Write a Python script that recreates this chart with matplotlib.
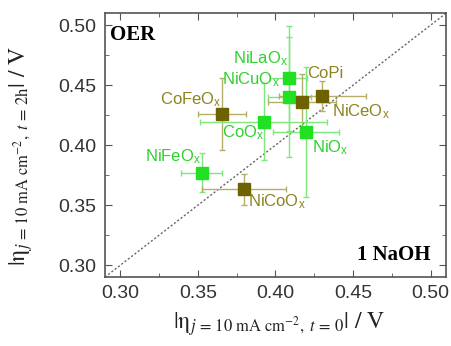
import matplotlib
matplotlib.use("Agg")
import matplotlib.pyplot as plt
from matplotlib.ticker import MultipleLocator

plt.rcParams['font.family'] = ['Liberation Sans', 'DejaVu Sans']
plt.rcParams['mathtext.fontset'] = 'custom'
plt.rcParams['mathtext.rm'] = 'Liberation Sans'
plt.rcParams['mathtext.it'] = 'Liberation Sans:italic'
plt.rcParams['mathtext.bf'] = 'Liberation Sans:bold'

# catalyst data
names = ['NiLaO$_\\mathrm{x}$', 'NiCuO$_\\mathrm{x}$', 'CoPi', 'NiCeO$_\\mathrm{x}$', 'CoFeO$_\\mathrm{x}$',
         'CoO$_\\mathrm{x}$', 'NiO$_\\mathrm{x}$', 'NiFeO$_\\mathrm{x}$', 'NiCoO$_\\mathrm{x}$']
eta_t0 = [0.4085, 0.409, 0.417, 0.4303, 0.3656, 0.3923, 0.4197, 0.3524, 0.3795]
eta_2h = [0.4556, 0.440, 0.4356, 0.4408, 0.4258, 0.4194, 0.4111, 0.3772, 0.3631]
err_t0 = [0.012, 0.014, 0.022, 0.028, 0.0155, 0.041, 0.021, 0.013, 0.027]
err_2h = [0.044, 0.05, 0.024, 0.0125, 0.03, 0.032, 0.054, 0.016, 0.013]
group = ['g', 'g', 'o', 'o', 'o', 'g', 'g', 'g', 'o']

# label anchors (left, baseline) in data units
lab_x = [0.3724, 0.3654, 0.4205, 0.4365, 0.3256, 0.3654, 0.4237, 0.3160, 0.3821]
lab_y = [0.4683, 0.4508, 0.4558, 0.4242, 0.4342, 0.4067, 0.3942, 0.3867, 0.3492]

mark_col = {'g': '#22e022', 'o': '#6e6200'}
bar_col = {'g': '#7ee87e', 'o': '#b4ae6a'}
text_col = {'g': '#2ed12e', 'o': '#8c8420'}

fig = plt.figure(figsize=(4.52, 3.46), dpi=100)
ax = fig.add_axes([0.232, 0.199, 0.755, 0.763])

ax.plot([0.29, 0.51], [0.29, 0.51], ls=(0, (1.5, 1.5)), color='#666666', lw=1.0, zorder=1)

for i in range(len(names)):
    g = group[i]
    ax.errorbar(eta_t0[i], eta_2h[i], xerr=err_t0[i], yerr=err_2h[i],
                fmt='none', ecolor=bar_col[g], elinewidth=1.0, capsize=2.5, capthick=1.0, zorder=2)
    ax.plot(eta_t0[i], eta_2h[i], 's', ms=8, color=mark_col[g], mec=mark_col[g], zorder=3)
    ax.text(lab_x[i], lab_y[i], names[i], color=text_col[g], fontsize=12,
            ha='left', va='baseline', zorder=4)

ax.set_xlim(0.29, 0.51)
ax.set_ylim(0.29, 0.51)
ax.xaxis.set_major_locator(MultipleLocator(0.05))
ax.yaxis.set_major_locator(MultipleLocator(0.05))
ax.xaxis.set_minor_locator(MultipleLocator(0.025))
ax.yaxis.set_minor_locator(MultipleLocator(0.025))
ax.xaxis.set_major_formatter(plt.FormatStrFormatter('%.2f'))
ax.yaxis.set_major_formatter(plt.FormatStrFormatter('%.2f'))
ax.tick_params(which='both', direction='in', top=True, right=True, color='#555555')
ax.tick_params(which='major', length=5, labelsize=14, labelcolor='#333333', pad=6)
ax.tick_params(which='minor', length=3)
for s in ax.spines.values():
    s.set_color('#555555')
    s.set_linewidth(1.2)

ax.text(0.015, 0.955, 'OER', transform=ax.transAxes, fontsize=15, fontweight='bold',
        family='Liberation Serif', ha='left', va='top')
ax.text(0.955, 0.045, '1 NaOH', transform=ax.transAxes, fontsize=15, fontweight='bold',
        family='Liberation Serif', ha='right', va='bottom')

xlab = r'$|\mathrm{\eta}_{j\,=\,10\ \mathrm{mA\ cm^{-2}},\ t\,=\,0}|\ /\ \mathrm{V}$'
ylab = r'$|\mathrm{\eta}_{j\,=\,10\ \mathrm{mA\ cm^{-2}},\ t\,=\,2\mathrm{h}}|\ /\ \mathrm{V}$'
fig.text(0.617, 0.064, xlab, fontsize=17, color='#222222', ha='center', va='center',
         math_fontfamily='stix')
fig.text(0.047, 0.549, ylab, fontsize=17, color='#222222', ha='center', va='center',
         rotation=90, math_fontfamily='stix')

fig.savefig('out.png', dpi=100)
